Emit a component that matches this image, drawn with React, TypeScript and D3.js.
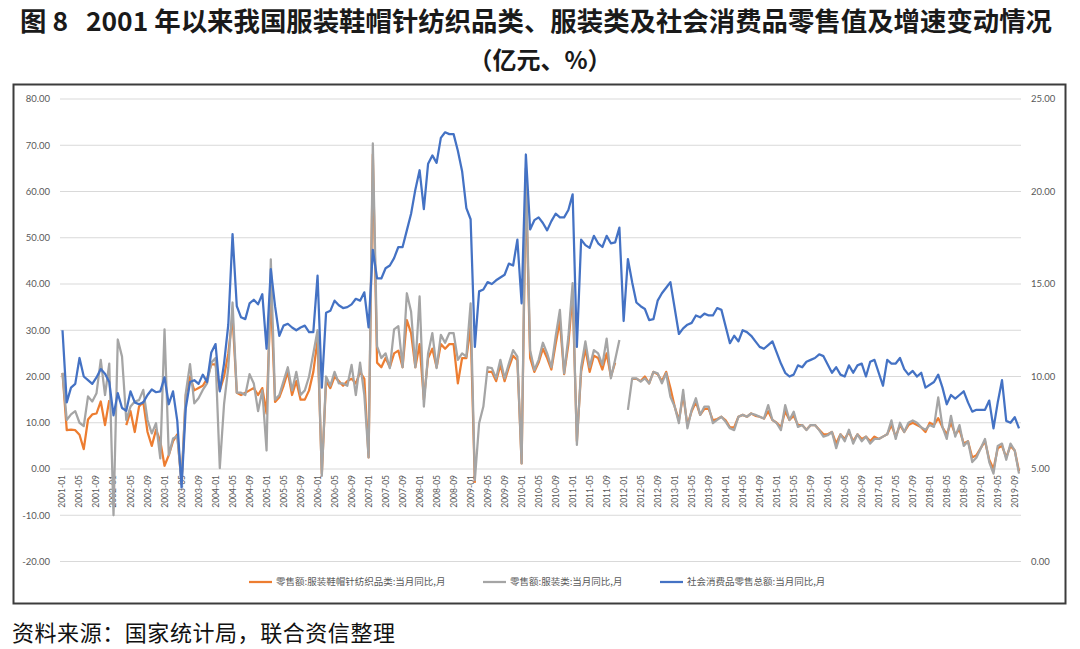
import React from "react";
import * as d3 from "d3";

// ---------- DATA ----------
const startYear = 2001;
const monthCount = 226; // 2001-01 .. 2019-10
const categories: string[] = d3.range(monthCount).map(
  (i) => `${startYear + Math.floor(i / 12)}-${String((i % 12) + 1).padStart(2, "0")}`
);

// 社会消费品零售总额:当月同比 (right axis, %)
const retailTotal: (number | null)[] = [
  12.5, 8.6, 9.4, 9.6, 11.0, 10.0, 9.8, 9.6, 9.95, 10.4, 10.15, 9.7,
  7.9, 9.1, 8.3, 8.15, 9.2, 8.6, 8.5, 8.6, 9.0, 9.3, 9.15, 9.2,
  9.95, 8.5, 9.2, 7.6, 4.0, 8.3, 9.7, 9.8, 9.6, 10.1, 9.7, 11.3,
  11.75, 9.2, 10.7, 12.8, 17.7, 13.8, 13.2, 13.1, 13.95, 14.15, 13.9, 14.45,
  11.5, 15.8, 13.8, 12.2, 12.75, 12.85, 12.65, 12.5, 12.65, 12.75, 12.4, 12.4,
  15.45, 9.4, 13.45, 13.55, 14.1, 13.85, 13.7, 13.75, 13.9, 14.2, 14.1, 14.55,
  12.65, 16.85, 15.3, 15.3, 15.85, 16.0, 16.4, 17.0, 17.0, 17.9, 18.8, 20.1,
  21.15, 19.05, 21.5, 21.95, 21.55, 22.9, 23.2, 23.1, 23.1, 22.2, 21.1, 19.1,
  18.5, 11.6, 14.6, 14.7, 15.1, 15.0, 15.2, 15.35, 15.5, 16.1, 16.0, 17.4,
  13.95, 22.0, 17.95, 18.45, 18.6, 18.3, 17.9, 18.4, 18.8, 18.6, 18.6, 19.0,
  19.85, 11.6, 17.4, 17.1, 16.95, 17.6, 17.2, 17.0, 17.6, 17.2, 17.25, 18.05,
  13.0, 16.35, 15.1, 14.0, 13.8, 13.65, 13.05, 13.1, 14.1, 14.5, 14.8, 15.1,
  null, 12.3, 12.6, 12.8, 12.9, 13.3, 13.2, 13.4, 13.3, 13.3, 13.7, 13.6,
  null, 11.8, 12.2, 11.9, 12.5, 12.4, 12.2, 11.9, 11.6, 11.5, 11.7, 11.9,
  null, 10.7, 10.2, 10.0, 10.1, 10.6, 10.5, 10.8, 10.9, 11.0, 11.2, 11.1,
  null, 10.2, 10.5, 10.1, 10.0, 10.6, 10.2, 10.6, 10.7, 10.0, 10.8, 10.9,
  null, 9.5, 10.9, 10.7, 10.7, 11.0, 10.4, 10.1, 10.3, 10.0, 10.2, 9.4,
  null, 9.7, 10.1, 9.4, 8.5, 9.0, 8.8, 9.0, 9.2, 8.6, 8.1, 8.2,
  null, 8.2, 8.7, 7.2, 8.6, 9.8, 7.6, 7.5, 7.8, 7.2,
];

// 零售额:服装类:当月同比 (left axis)
const clothing: (number | null)[] = [
  20.8, 10.6, 11.8, 12.5, 10.0, 9.3, 15.7, 14.6, 16.4, 23.6, 16.0, 22.8,
  -10.0, 28.0, 24.3, 10.6, 13.5, 14.6, 14.9, 17.1, 10.6, 7.7, 9.9, 2.3,
  30.2, 3.0, 6.6, 7.1, -3.0, 16.4, 22.7, 14.2, 15.3, 17.1, 18.5, 23.0,
  24.0, 0.2, 14.0, 22.0, 36.0, 16.5, 16.5, 16.0, 20.5, 18.5, 12.5, 17.0,
  4.0, 45.3, 15.0, 16.0, 19.0, 22.0, 17.0, 21.0, 16.0, 17.0, 20.0, 25.0,
  30.0, -1.5, 20.0, 18.0, 21.0, 18.5, 18.5, 18.0, 22.5, 16.0, 23.0, 16.0,
  2.5, 70.4, 26.5, 24.0, 25.0, 21.8, 30.2, 30.9, 22.0, 38.0, 34.0, 22.0,
  37.3, 13.5, 25.0, 29.4, 21.8, 29.0, 27.3, 29.4, 29.4, 23.6, 25.0, 24.3,
  35.8, -2.4, 9.9, 13.5, 22.0, 21.8, 19.6, 23.6, 19.6, 22.8, 25.7, 24.3,
  1.2, 65.0, 25.7, 21.4, 23.6, 27.3, 25.0, 22.0, 28.6, 34.4, 20.7, 28.6,
  40.2, 5.2, 22.0, 27.6, 22.0, 25.7, 25.0, 22.5, 28.2, 19.6, 23.6, 27.9,
  null, 12.8, 19.6, 19.6, 18.9, 19.6, 18.5, 21.0, 20.7, 18.5, 20.7, 15.6,
  13.5, 9.9, 17.1, 8.8, 12.8, 15.3, 11.7, 13.5, 13.5, 9.9, 10.6, 11.3,
  10.2, 8.8, 8.4, 11.3, 11.7, 11.3, 12.0, 11.7, 11.3, 10.9, 13.8, 10.6,
  9.9, 8.4, 13.8, 10.6, 12.4, 9.1, 9.5, 8.4, 9.5, 9.5, 8.4, 7.0,
  7.3, 8.0, 4.5, 7.5, 6.0, 8.5, 5.5, 7.5, 6.0, 7.0, 5.5, 6.5,
  6.5, 7.0, 7.5, 10.5, 6.5, 10.0, 8.0, 10.0, 10.5, 10.0, 9.0, 8.5,
  9.5, 9.1, 15.5, 9.1, 6.5, 11.5, 7.0, 9.5, 5.0, 6.0, 1.5, 2.5,
  4.5, 6.5, 1.5, -1.0, 5.0, 5.5, 2.0, 5.5, 4.0, -1.0,
];

// 零售额:服装鞋帽针纺织品类:当月同比 (left axis)
const apparel: (number | null)[] = [
  20.8, 8.4, 8.5, 8.4, 7.4, 4.3, 10.7, 11.8, 12.0, 14.6, 9.5, 14.9,
  null, null, null, 9.5, 12.5, 8.0, 13.5, 14.5, 8.0, 5.0, 8.5, 6.0,
  0.7, 3.0, 6.0, 7.5, -3.0, 16.0, 20.0, 17.0, 17.5, 18.0, 19.5, 22.6,
  22.6, 17.0, 20.0, 25.0, 33.0, 16.5, 16.0, 16.5, 17.0, 17.5, 16.0, 17.5,
  12.0, 38.0, 14.5, 15.5, 18.0, 21.0, 16.0, 19.0, 15.0, 15.0, 17.0, 21.0,
  28.0, -1.0, 19.0, 17.5, 20.0, 19.0, 18.0, 19.0, 19.5, 18.5, 21.0, 19.5,
  2.5, 68.0, 23.0, 22.0, 24.0, 22.0, 25.0, 25.6, 22.0, 32.2, 29.4, 22.0,
  27.0, 15.0, 24.0, 26.0, 22.0, 27.0, 26.0, 27.0, 27.0, 18.5, 24.0, 24.0,
  30.8, -3.0, null, null, 21.0, 21.0, 19.0, 22.5, 19.0, 22.0, 24.5, 23.5,
  1.2, 62.0, 24.0, 21.0, 23.0, 26.0, 24.0, 21.5, 27.0, 32.0, 20.5, 27.0,
  38.0, 6.0, 21.0, 26.0, 21.0, 24.5, 24.0, 21.5, 25.0, 20.0, 23.0, null,
  null, null, 19.5, 19.5, 19.0, 20.0, 18.5, 21.0, 20.5, 19.0, 21.0, 17.5,
  13.5, 10.5, 16.0, 9.5, 12.5, 14.5, 11.7, 13.0, 13.0, 10.5, 10.8, 11.3,
  10.5, 9.0, 9.0, 11.3, 11.7, 11.3, 12.0, 11.5, 11.3, 10.9, 12.5, 10.6,
  10.0, 9.0, 12.5, 10.6, 11.5, 9.5, 9.5, 8.5, 9.5, 9.5, 8.5, 7.5,
  7.5, 8.0, 5.5, 7.5, 6.5, 8.0, 6.0, 7.5, 6.5, 7.0, 6.0, 7.0,
  6.5, 7.0, 7.5, 9.5, 7.0, 9.5, 8.0, 9.5, 10.0, 9.5, 9.0, 8.0,
  10.0, 9.5, 11.0, 9.0, 7.5, 10.0, 7.5, 8.5, 5.5, 6.0, 2.5, 3.0,
  4.5, 6.0, 2.0, 0.0, 4.5, 5.0, 2.5, 5.0, 4.0, -0.5,
];

const leftTicks = [80, 70, 60, 50, 40, 30, 20, 10, 0, -10, -20];
const rightTicks = [25, 20, 15, 10, 5, 0];

const seriesNames = [
  "零售额:服装鞋帽针纺织品类:当月同比,月",
  "零售额:服装类:当月同比,月",
  "社会消费品零售总额:当月同比,月",
];
const seriesColors = ["#ED7D31", "#A5A5A5", "#4472C4"];

const titleLine1 = "图 8\u00a0\u00a0\u00a02001 年以来我国服装鞋帽针纺织品类、服装类及社会消费品零售值及增速变动情况";
const titleLine2 = "（亿元、%）";
const sourceText = "资料来源：国家统计局，联合资信整理";

// ---------- CHART ----------
const W = 1080;
const H = 649;
const plotLeft = 60;
const plotRight = 1021;
const plotTop = 99;
const plotBottom = 561.5;

export default function App() {
  const x = d3
    .scalePoint<string>()
    .domain(categories)
    .range([62.5, 1019]);
  const yL = d3.scaleLinear().domain([-20, 80]).range([plotBottom, plotTop]);
  const yR = d3.scaleLinear().domain([0, 25]).range([plotBottom, plotTop]);

  type P = { c: string; v: number | null };
  const toPts = (arr: (number | null)[]): P[] =>
    categories.map((c, i) => ({ c, v: arr[i] === undefined ? null : arr[i] }));

  const lineL = d3
    .line<P>()
    .defined((d) => d.v !== null)
    .x((d) => x(d.c) as number)
    .y((d) => yL(d.v as number));
  const lineR = d3
    .line<P>()
    .x((d) => x(d.c) as number)
    .y((d) => yR(d.v as number));

  const apparelPath = lineL(toPts(apparel)) || "";
  const clothingPath = lineL(toPts(clothing)) || "";
  const totalPath = lineR(toPts(retailTotal).filter((d) => d.v !== null)) || "";

  const numFont = "Lato, 'Liberation Sans', sans-serif";
  const cjkFont = "'Noto Sans CJK SC', 'Noto Sans', sans-serif";
  const axisColor = "#595959";

  const legendItems = [
    { x: 249, name: seriesNames[0], color: seriesColors[0] },
    { x: 483, name: seriesNames[1], color: seriesColors[1] },
    { x: 660, name: seriesNames[2], color: seriesColors[2] },
  ];

  return (
    <div style={{ position: "absolute", left: 0, top: 0 }}>
      <svg width={W} height={H} viewBox={`0 0 ${W} ${H}`} style={{ display: "block", background: "#fff" }}>
        <rect x={0} y={0} width={W} height={H} fill="#fff" />
        {/* Title */}
        <text
          x={20}
          y={31}
          fontFamily={cjkFont}
          fontWeight={700}
          fontSize={26}
          fill="#1a1a1a"
          textLength={1032}
          lengthAdjust="spacingAndGlyphs"
        >
          {titleLine1}
        </text>
        <text x={540} y={69} textAnchor="middle" fontFamily={cjkFont} fontWeight={700} fontSize={24} fill="#1a1a1a">
          {titleLine2}
        </text>

        {/* Box */}
        <rect x={13.5} y={84.5} width={1052} height={519} fill="#fff" stroke="#3c3c3c" strokeWidth={2} />

        {/* Gridlines */}
        {leftTicks.map((t) => (
          <line key={"g" + t} x1={plotLeft} x2={plotRight} y1={yL(t)} y2={yL(t)} stroke="#d9d9d9" strokeWidth={1} />
        ))}

        {/* Left axis labels */}
        {leftTicks.map((t) => (
          <text
            key={"l" + t}
            x={50}
            y={yL(t)}
            dy="0.35em"
            textAnchor="end"
            fontFamily={numFont}
            fontSize={9.5}
            fill={axisColor}
          >
            {t.toFixed(2)}
          </text>
        ))}
        {/* Right axis labels */}
        {rightTicks.map((t) => (
          <text
            key={"r" + t}
            x={1031}
            y={yR(t)}
            dy="0.35em"
            textAnchor="start"
            fontFamily={numFont}
            fontSize={9.5}
            fill={axisColor}
          >
            {t.toFixed(2)}
          </text>
        ))}

        {/* X labels */}
        {categories.map((c, i) =>
          i % 4 === 0 ? (
            <text
              key={"x" + c}
              transform={`translate(${x(c)},${yL(0) + 6}) rotate(-90)`}
              textAnchor="end"
              dy="0.35em"
              fontFamily={numFont}
              fontSize={8.5}
              fill={axisColor}
            >
              {c}
            </text>
          ) : null
        )}

        {/* Lines */}
        <path d={apparelPath} fill="none" stroke={seriesColors[0]} strokeWidth={2.25} strokeLinejoin="round" />
        <path d={clothingPath} fill="none" stroke={seriesColors[1]} strokeWidth={2.25} strokeLinejoin="round" />
        <path d={totalPath} fill="none" stroke={seriesColors[2]} strokeWidth={2.25} strokeLinejoin="round" />

        {/* Legend */}
        {legendItems.map((it) => (
          <g key={it.name}>
            <line x1={it.x} x2={it.x + 23} y1={582} y2={582} stroke={it.color} strokeWidth={2.25} />
            <text x={it.x + 27} y={582} dy="0.35em" fontFamily={cjkFont} fontSize={9.5} fill={axisColor}>
              {it.name}
            </text>
          </g>
        ))}

        {/* Source */}
        <text x={12} y={641} fontFamily={cjkFont} fontSize={22} fill="#111" textLength={383} lengthAdjust="spacing">
          {sourceText}
        </text>
      </svg>
    </div>
  );
}
